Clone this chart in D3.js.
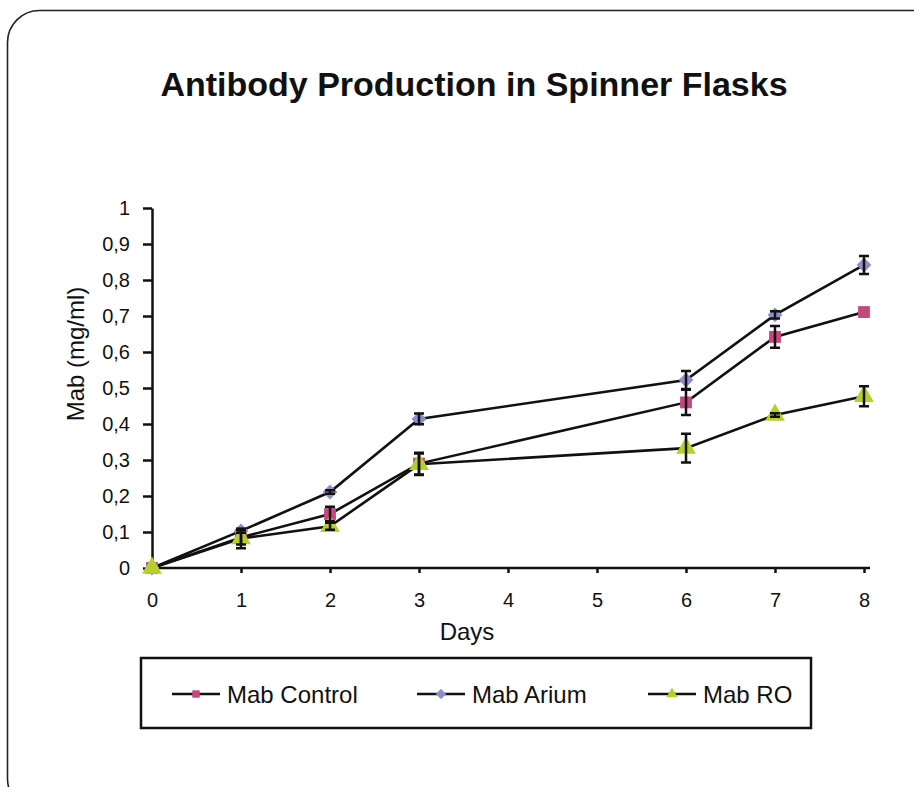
<!DOCTYPE html>
<html>
<head>
<meta charset="utf-8">
<script src="https://cdn.jsdelivr.net/npm/d3@7"></script>
<style>
	body { margin: 0; background: white; }
	svg text { font-family: "Liberation Sans", Arial, sans-serif; fill: #111; }
</style>
</head>
<body>
<svg id="chart" width="914" height="787"></svg>
<script>
// values
var days = [0, 1, 2, 3, 6, 7, 8];
var mabControl = [0, 0.085, 0.150, 0.290, 0.460, 0.642, 0.711];
var mabArium = [0, 0.103, 0.211, 0.414, 0.522, 0.703, 0.842];
var mabRO = [0, 0.082, 0.116, 0.288, 0.333, 0.425, 0.477];
var errControl = [0, 0.02, 0.02, 0.03, 0.035, 0.03, 0];
var errArium = [0, 0.005, 0.005, 0.015, 0.025, 0.01, 0.025];
var errRO = [0, 0.027, 0.01, 0.03, 0.04, 0.005, 0.028];
var seriesNames = ["Mab Control", "Mab Arium", "Mab RO"];
var xTicks = [0, 1, 2, 3, 4, 5, 6, 7, 8];
var yTicks = [0, 0.1, 0.2, 0.3, 0.4, 0.5, 0.6, 0.7, 0.8, 0.9, 1];

function getColor(name) {
	switch (name) {
		case "Mab Control":
			return "#c6467d";
		case "Mab Arium":
			return "#8d8fca";
		case "Mab RO":
			return "#b8cf2b";
		default:
			return "black";
	}
}

function getSymbol(name) {
	switch (name) {
		case "Mab Control":
			return d3.symbolSquare;
		case "Mab Arium":
			return d3.symbolSquare; // turned 45 degrees below
		default:
			return d3.symbolTriangle;
	}
}

function getRotate(name) {
	return name == "Mab Arium" ? " rotate(45)" : "";
}

var series = [
	{ name: seriesNames[0], values: mabControl, err: errControl, size: 140 },
	{ name: seriesNames[1], values: mabArium, err: errArium, size: 110 },
	{ name: seriesNames[2], values: mabRO, err: errRO, size: 170 }
];

var svg = d3.select("#chart");

// rounded frame round the whole figure
svg.append("rect")
	.attr("x", 7.5)
	.attr("y", 10.5)
	.attr("width", 940)
	.attr("height", 800)
	.attr("rx", 32)
	.style("fill", "none")
	.style("stroke", "#222")
	.style("stroke-width", 1.6);

svg.append("text")
	.attr("x", 474)
	.attr("y", 96)
	.attr("text-anchor", "middle")
	.style("font-size", "34px")
	.style("font-weight", "bold")
	.text("Antibody Production in Spinner Flasks");

var x = d3.scaleLinear().domain([0, 8]).range([152, 864]);
var y = d3.scaleLinear().domain([0, 1]).range([568, 208]);

var fmt = d3.formatLocale({ decimal: ",", thousands: ".", grouping: [3], currency: ["", ""] }).format("~g");

var yAxis = svg.append("g")
	.attr("transform", "translate(" + x(0) + ",0)")
	.call(d3.axisLeft(y).tickValues(yTicks).tickSize(9).tickSizeOuter(0).tickPadding(13).tickFormat(fmt));

var xAxis = svg.append("g")
	.attr("transform", "translate(0," + y(0) + ")")
	.call(d3.axisBottom(x).tickValues(xTicks).tickSize(5).tickSizeOuter(0).tickPadding(20));

svg.selectAll(".domain, .tick line")
	.style("stroke", "#111")
	.style("stroke-width", 2.5);
svg.selectAll(".tick text")
	.style("font-size", "20px");
xAxis.select(".domain").attr("d", "M" + x(0) + ",0H" + (x(8) + 6));

svg.append("text")
	.attr("transform", "translate(84,354) rotate(-90)")
	.attr("text-anchor", "middle")
	.style("font-size", "24px")
	.text("Mab (mg/ml)");

svg.append("text")
	.attr("x", 467)
	.attr("y", 640)
	.attr("text-anchor", "middle")
	.style("font-size", "24px")
	.text("Days");

var line = d3.line()
	.x(function (d) { return x(d.day); })
	.y(function (d) { return y(d.v); });

var g = svg.append("g");

series.forEach(function (s) {
	var pts = days.map(function (day, i) {
		return { day: day, v: s.values[i], e: s.err[i] };
	});

	g.append("path")
		.datum(pts)
		.attr("d", line)
		.style("fill", "none")
		.style("stroke", "#111")
		.style("stroke-width", 2.6);

	s.pts = pts;
});

series.forEach(function (s) {
	g.selectAll(null)
		.data(s.pts)
		.enter().append("path")
		.attr("transform", function (d) {
			return "translate(" + x(d.day) + "," + y(d.v) + ")" + getRotate(s.name);
		})
		.attr("d", d3.symbol().type(getSymbol(s.name)).size(s.size))
		.style("fill", getColor(s.name));
});

// error bars
series.forEach(function (s) {
	var bars = g.selectAll(null)
		.data(s.pts.filter(function (d) { return d.e > 0; }))
		.enter().append("g")
		.attr("transform", function (d) { return "translate(" + x(d.day) + ",0)"; });

	bars.append("path")
		.attr("d", function (d) {
			var y0 = y(d.v - d.e), y1 = y(d.v + d.e);
			return "M0," + y0 + "V" + y1 + "M-5," + y0 + "H5M-5," + y1 + "H5";
		})
		.style("fill", "none")
		.style("stroke", "#111")
		.style("stroke-width", 2.5);
});

// legend
var legend = svg.append("g");
legend.append("rect")
	.attr("x", 141)
	.attr("y", 658)
	.attr("width", 670)
	.attr("height", 70)
	.style("fill", "none")
	.style("stroke", "#111")
	.style("stroke-width", 2.5);

var legendX = [172, 417, 648];
var item = legend.selectAll(null)
	.data(seriesNames)
	.enter().append("g")
	.attr("transform", function (d, i) { return "translate(" + legendX[i] + ",694)"; });

item.append("line")
	.attr("x1", 0)
	.attr("x2", 48)
	.style("stroke", "#111")
	.style("stroke-width", 2.6);

item.append("path")
	.attr("transform", function (d) { return "translate(24,0)" + getRotate(d); })
	.attr("d", function (d) { return d3.symbol().type(getSymbol(d)).size(55)(); })
	.style("fill", function (d) { return getColor(d); });

item.append("text")
	.attr("x", 55)
	.attr("dy", "0.36em")
	.style("font-size", "24px")
	.text(function (d) { return d; });
</script>
</body>
</html>
